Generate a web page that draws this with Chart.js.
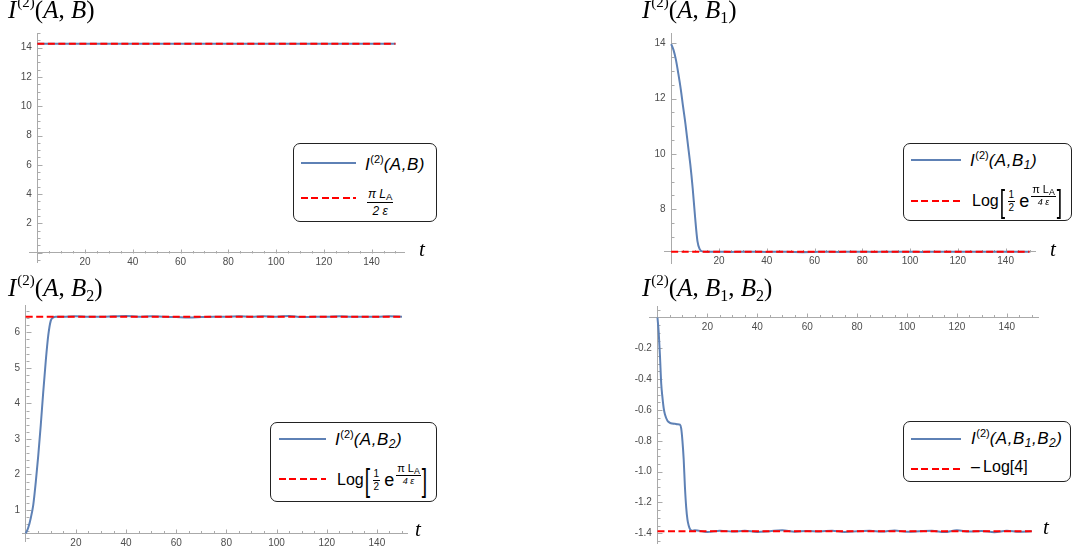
<!DOCTYPE html>
<html>
<head>
<meta charset="utf-8">
<script src="https://cdn.jsdelivr.net/npm/chart.js@4.4.1/dist/chart.umd.min.js"></script>
<style>
html, body { margin: 0; padding: 0; background: #fff; }
body { width: 1072px; height: 551px; position: relative; overflow: hidden; font-family: 'Liberation Sans', Arial, sans-serif; }
canvas { position: absolute; }
.ttl { position: absolute; font: 25px/25px 'Liberation Serif', serif; white-space: nowrap; color: #000; }
.ttl sup { font-size: 15px; vertical-align: 0; position: relative; top: -11px; margin-left: 1px; }
.ttl sub { font-size: 16px; vertical-align: 0; position: relative; top: 5px; }
.tlab { position: absolute; font: italic 21px/21px 'Liberation Serif', serif; }
.leg { position: absolute; box-sizing: border-box; border: 1px solid #222; border-radius: 7px; background: #fff; }
.leg > * { position: absolute; }
.sw { height: 2px; }
.sw.b { background: #5e81b5; }
.sw.r { background: repeating-linear-gradient(90deg, #f00 0 7px, transparent 7px 10.5px); }
.lt { font: italic 17px/17px 'Liberation Sans', Arial, sans-serif; white-space: nowrap; letter-spacing: 0.5px; }
.lt sup { font-size: 11px; vertical-align: 0; position: relative; top: -7px; font-style: normal; letter-spacing: 0; }
.lt sub { font-size: 12px; vertical-align: 0; position: relative; top: 3px; }
.lt.n { font-style: normal; font-size: 16px; line-height: 16px; letter-spacing: 0; }
.frac { display: inline-flex; flex-direction: column; align-items: center; line-height: 1; }
.frac > span:first-child { border-bottom: 1px solid #000; padding: 0 1px 1px; }
.frac > span:last-child { padding-top: 1px; }
.frac sub { font-size: 0.8em; vertical-align: 0; position: relative; top: 2px; font-style: normal; }
.f1 { font: italic 12px 'Liberation Sans', Arial, sans-serif; }
.lx { display: flex; align-items: center; font: 16px/1 'Liberation Sans', Arial, sans-serif; white-space: nowrap; }
.lx .br { font-size: 32px; font-weight: 300; margin: 0 -1px; transform: scaleX(0.6); }
.lx .f2 { font-size: 10px; margin: 0 4px 0 2px; }
.lx .ee { font-size: 18px; }
.lx .ex { position: relative; top: -8px; margin-left: 2px; }
.lx .f3 { font-size: 11px; }
.lx .f3 > span:last-child { font-size: 9px; font-style: italic; }
</style>
</head>
<body>
<canvas id="c1" width="536" height="275" style="left:0;top:0"></canvas>
<canvas id="c2" width="536" height="275" style="left:536px;top:0"></canvas>
<canvas id="c3" width="536" height="276" style="left:0;top:275px"></canvas>
<canvas id="c4" width="536" height="276" style="left:536px;top:275px"></canvas>

<div class="ttl" style="left:8px;top:-3px"><i>I</i><sup>(2)</sup>(<i>A</i>, <i>B</i>)</div>
<div class="ttl" style="left:642px;top:-3px"><i>I</i><sup>(2)</sup>(<i>A</i>, <i>B</i><sub>1</sub>)</div>
<div class="ttl" style="left:8px;top:275px"><i>I</i><sup>(2)</sup>(<i>A</i>, <i>B</i><sub>2</sub>)</div>
<div class="ttl" style="left:642px;top:275px"><i>I</i><sup>(2)</sup>(<i>A</i>, <i>B</i><sub>1</sub>, <i>B</i><sub>2</sub>)</div>

<div class="tlab" style="left:419px;top:239px">t</div>
<div class="tlab" style="left:1050px;top:239px">t</div>
<div class="tlab" style="left:415px;top:519px">t</div>
<div class="tlab" style="left:1043px;top:517px">t</div>

<div class="leg" style="left:293px;top:143px;width:144px;height:79px">
  <div class="sw b" style="left:7px;top:18px;width:55px"></div>
  <div class="lt" style="left:71px;top:12px">I<sup>(2)</sup>(A,B)</div>
  <div class="sw r" style="left:7px;top:53px;width:55px"></div>
  <div class="frac f1" style="left:73px;top:43px"><span>π L<sub>A</sub></span><span>2 ε</span></div>
</div>

<div class="leg" style="left:903px;top:143px;width:169px;height:78px">
  <div class="sw b" style="left:7px;top:15px;width:50px"></div>
  <div class="lt" style="left:66px;top:8px">I<sup>(2)</sup>(A,B<sub>1</sub>)</div>
  <div class="sw r" style="left:7px;top:56px;width:50px"></div>
  <div class="lx" style="left:68px;top:42px;height:30px">Log<span class="br">[</span><span class="frac f2"><span>1</span><span>2</span></span><span class="ee">e</span><span class="ex"><span class="frac f3"><span>π L<sub>A</sub></span><span>4 ε</span></span></span><span class="br">]</span></div>
</div>

<div class="leg" style="left:270px;top:422px;width:167px;height:80px">
  <div class="sw b" style="left:8px;top:15px;width:47px"></div>
  <div class="lt" style="left:64px;top:8px">I<sup>(2)</sup>(A,B<sub>2</sub>)</div>
  <div class="sw r" style="left:8px;top:55px;width:47px"></div>
  <div class="lx" style="left:66px;top:42px;height:30px">Log<span class="br">[</span><span class="frac f2"><span>1</span><span>2</span></span><span class="ee">e</span><span class="ex"><span class="frac f3"><span>π L<sub>A</sub></span><span>4 ε</span></span></span><span class="br">]</span></div>
</div>

<div class="leg" style="left:903px;top:421px;width:168px;height:61px">
  <div class="sw b" style="left:7px;top:16px;width:50px"></div>
  <div class="lt" style="left:67px;top:8px">I<sup>(2)</sup>(A,B<sub>1</sub>,B<sub>2</sub>)</div>
  <div class="sw r" style="left:7px;top:46px;width:50px"></div>
  <div class="lt n" style="left:67px;top:37px">–&#8201;Log[4]</div>
</div>

<script>
// shared late-time sample points
const tTail = [15, 20, 25, 30, 35, 40, 45, 50, 55, 60, 65, 70, 75, 80, 85, 90, 95, 100, 105, 110, 115, 120, 125, 130, 135, 140, 145, 150];

// I(A,B)
const tAB = [0, 150];
const iAB = [14.28, 14.28];
const refAB = 14.28;

// I(A,B1)
const tAB1Head = [0, 1, 2, 3, 4, 5, 6, 7, 8, 9, 10, 11, 12, 13];
const iAB1Head = [13.97, 13.75, 13.4, 12.9, 12.35, 11.7, 11.07, 10.35, 9.63, 8.77, 7.73, 6.85, 6.55, 6.48];
const iAB1Tail = [6.47, 6.47, 6.46, 6.47, 6.47, 6.46, 6.47, 6.46, 6.45, 6.46, 6.47, 6.46, 6.47, 6.47, 6.46, 6.47, 6.47, 6.47, 6.46, 6.47, 6.47, 6.47, 6.47, 6.47, 6.47, 6.47, 6.47, 6.47];
const refAB1 = 6.47;

// I(A,B2)
const tAB2Head = [0, 1, 2, 3, 4, 5, 6, 7, 8, 9, 10, 11, 12];
const iAB2Head = [0.34, 0.5, 0.77, 1.14, 1.78, 2.53, 3.39, 4.33, 5.2, 5.92, 6.33, 6.42, 6.44];
const iAB2Tail = [6.44, 6.45, 6.44, 6.44, 6.45, 6.46, 6.44, 6.45, 6.44, 6.43, 6.42, 6.43, 6.44, 6.44, 6.45, 6.44, 6.45, 6.44, 6.46, 6.43, 6.44, 6.44, 6.45, 6.44, 6.44, 6.44, 6.45, 6.44];
const refAB2 = 6.44;

// I(A,B1,B2)
const tABBHead = [0, 0.5, 1, 1.5, 2, 2.5, 3, 4, 5, 6, 7, 8, 9, 9.5, 10, 10.5, 11, 11.5, 12, 12.5, 13, 14];
const iABBHead = [0, -0.1, -0.25, -0.43, -0.52, -0.59, -0.63, -0.67, -0.683, -0.688, -0.69, -0.692, -0.695, -0.72, -0.8, -0.92, -1.1, -1.23, -1.31, -1.35, -1.372, -1.384];
const iABBTail = [-1.38, -1.392, -1.383, -1.389, -1.384, -1.391, -1.386, -1.381, -1.39, -1.385, -1.388, -1.383, -1.391, -1.386, -1.384, -1.389, -1.382, -1.39, -1.387, -1.384, -1.392, -1.381, -1.389, -1.385, -1.393, -1.383, -1.39, -1.386];
const refABB = -1.386;

const BLUE = '#5e81b5';
const RED = '#ff0000';
const AXIS = '#aaaaaa';
const TICKFONT = { family: "'Liberation Sans', Arial, sans-serif", size: 10 };

// Mathematica-style inward ticks with minor marks
const axisTicks = {
    id: 'axisTicks',
    beforeDatasetsDraw(chart, args, o) {
        const { ctx, scales: { x, y } } = chart;
        const ay = Math.round(y.getPixelForValue(o.xAt)) + 0.5;
        const ax = Math.round(x.getPixelForValue(0)) + 0.5;
        const major = (v, s) => Math.abs(v / s - Math.round(v / s)) < 1e-6;
        ctx.save();
        ctx.strokeStyle = AXIS;
        ctx.lineWidth = 1;
        ctx.beginPath();
        for (let k = Math.ceil(x.min / o.xMinor); k * o.xMinor <= x.max; k++) {
            const v = k * o.xMinor;
            if (v === 0) continue;
            const px = Math.round(x.getPixelForValue(v)) + 0.5;
            ctx.moveTo(px, ay);
            ctx.lineTo(px, ay - (major(v, o.xMajor) ? 4 : 2.5));
        }
        for (let k = Math.ceil(y.min / o.yMinor - 1e-9); k * o.yMinor <= y.max + 1e-9; k++) {
            const v = k * o.yMinor;
            const py = Math.round(y.getPixelForValue(v)) + 0.5;
            ctx.moveTo(ax, py);
            ctx.lineTo(ax + (major(v, o.yMajor) ? 5 : 3), py);
        }
        ctx.stroke();
        ctx.restore();
    }
};

function pairs(ts, vs) { return ts.map((t, i) => ({ x: t, y: vs[i] })); }

function makeChart(id, data, ref, o) {
    return new Chart(document.getElementById(id), {
        type: 'line',
        data: {
            datasets: [
                { data: [{ x: 0, y: ref }, { x: 150, y: ref }], borderColor: RED, borderWidth: 2, borderDash: [7, 3.5], pointRadius: 0, order: 0 },
                { data, borderColor: BLUE, borderWidth: 2, pointRadius: 0, cubicInterpolationMode: 'monotone', order: 1 }
            ]
        },
        options: {
            responsive: false,
            animation: false,
            layout: { padding: o.pad },
            plugins: { legend: { display: false }, tooltip: { enabled: false }, axisTicks: o },
            scales: {
                x: {
                    type: 'linear', min: o.x[0], max: o.x[1],
                    position: { y: o.xAt },
                    grid: { display: false, drawTicks: false },
                    border: { color: AXIS, width: 1 },
                    ticks: { stepSize: o.xMajor, includeBounds: false, autoSkip: false, maxRotation: 0, padding: 4,
                             font: TICKFONT, color: '#4d4d4d',
                             callback: v => v === 0 ? '' : String(v) }
                },
                y: {
                    type: 'linear', min: o.y[0], max: o.y[1],
                    position: { x: 0 },
                    grid: { display: false, drawTicks: false },
                    border: { color: AXIS, width: 1 },
                    ticks: { stepSize: o.yMajor, includeBounds: false, autoSkip: false, padding: 0,
                             font: TICKFONT, color: '#4d4d4d',
                             callback: v => Math.abs(v) < 1e-9 ? '' : (o.yDec ? v.toFixed(o.yDec) : String(Math.round(v))) + '  ' }
                }
            }
        },
        plugins: [axisTicks]
    });
}

makeChart('c1', pairs(tAB, iAB), refAB, {
    pad: { left: 29, right: 131.7, top: 33.1, bottom: 12.2 },
    x: [-3.5, 153.7], y: [-0.7, 15], xAt: 0,
    xMajor: 20, xMinor: 5, yMajor: 2, yMinor: 0.5, yDec: 0
});
makeChart('c2', pairs(tAB1Head.concat(tTail), iAB1Head.concat(iAB1Tail)), refAB1, {
    pad: { left: 128, right: 37, top: 33, bottom: 12 },
    x: [-3, 152.3], y: [6.06, 14.37], xAt: 6.47,
    xMajor: 20, xMinor: 5, yMajor: 2, yMinor: 0.5, yDec: 0
});
makeChart('c3', pairs(tAB2Head.concat(tTail), iAB2Head.concat(iAB2Tail)), refAB2, {
    pad: { left: 22.7, right: 129, top: 30, bottom: 9.3 },
    x: [-1.2, 152], y: [0.108, 6.77], xAt: 0.344,
    xMajor: 20, xMinor: 5, yMajor: 1, yMinor: 0.2, yDec: 0
});
makeChart('c4', pairs(tABBHead.concat(tTail), iABBHead.concat(iABBTail)), refABB, {
    pad: { left: 113, right: 34, top: 31.7, bottom: 8 },
    x: [-3.4, 152.5], y: [-1.463, 0.07], xAt: 0,
    xMajor: 20, xMinor: 5, yMajor: 0.2, yMinor: 0.05, yDec: 1
});
</script>
</body>
</html>
